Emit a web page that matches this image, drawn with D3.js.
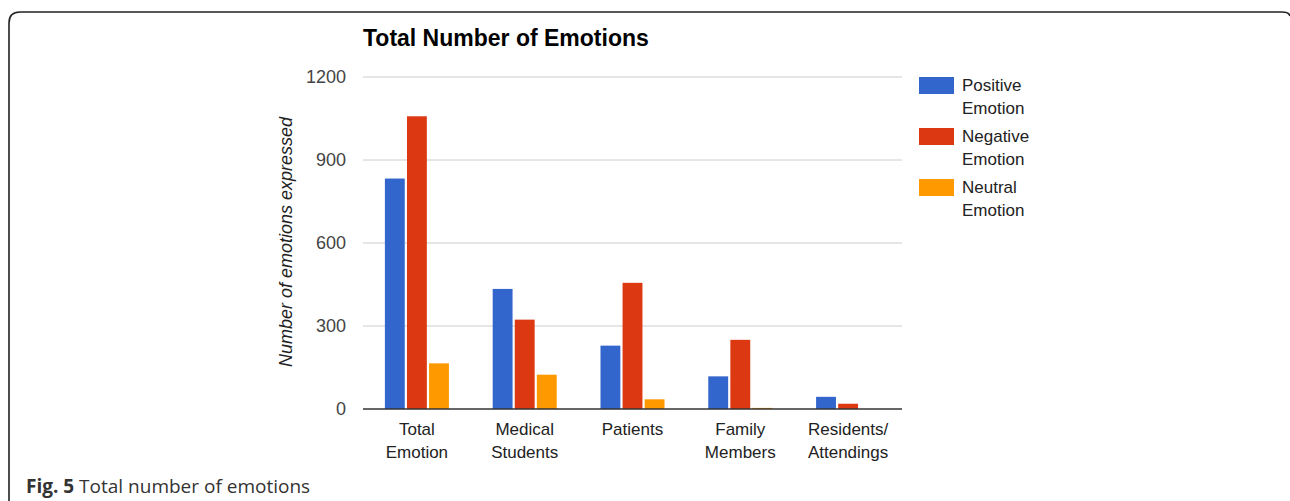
<!DOCTYPE html>
<html>
<head>
<meta charset="utf-8">
<script src="https://cdn.jsdelivr.net/npm/d3@7"></script>
<style>
  body { margin: 0; background: #fff; }
  svg { display: block; }
</style>
</head>
<body>
<div id="plot-container"></div>
<script>
// chart data
const categories = [["Total", "Emotion"], ["Medical", "Students"], ["Patients"], ["Family", "Members"], ["Residents/", "Attendings"]];
const seriesNames = [["Positive", "Emotion"], ["Negative", "Emotion"], ["Neutral", "Emotion"]];
const positive = [833, 434, 229, 118, 44];
const negative = [1058, 323, 456, 250, 19];
const neutral = [165, 124, 35, 4, 0];
const yTicks = [0, 300, 600, 900, 1200];
const colors = ["#3366cc", "#dc3912", "#ff9900"];

const W = 1290, H = 501;
const plot = {left: 363, right: 902, top: 77, bottom: 409};

const svg = d3.select("#plot-container")
  .append("svg")
    .attr("width", W)
    .attr("height", H)
    .style("font-family", "'Liberation Sans', Arial, sans-serif");

// frame round the figure
svg.append("path")
    .attr("d", "M9,501 L9,23 Q9,12 20,12 L1282,12 Q1289,12 1290,16")
    .attr("fill", "none")
    .attr("stroke", "#222")
    .attr("stroke-width", 1.6);

const catKeys = categories.map(c => c.join(" "));
const series = [positive, negative, neutral];

const x0 = d3.scaleBand()
    .domain(catKeys)
    .range([plot.left, plot.right])
    .paddingInner(0.406)
    .paddingOuter(0.203);

const x1 = d3.scaleBand()
    .domain([0, 1, 2])
    .range([0, x0.bandwidth()])
    .paddingInner(0.1);

const y = d3.scaleLinear()
    .domain([0, 1200])
    .range([plot.bottom, plot.top]);

// grid lines
svg.append("g")
  .selectAll("line")
  .data(yTicks.filter(d => d > 0))
  .enter()
  .append("line")
    .attr("x1", plot.left)
    .attr("x2", plot.right)
    .attr("y1", d => y(d))
    .attr("y2", d => y(d))
    .attr("stroke", "#cccccc")
    .attr("stroke-width", 1);

// y tick labels
const yAxis = svg.append("g")
    .attr("transform", `translate(${plot.left - 17},0)`)
    .call(d3.axisLeft(y).tickValues(yTicks).tickFormat(d3.format("d")).tickSize(0).tickPadding(0));
yAxis.select(".domain").remove();
yAxis.selectAll("text")
    .attr("fill", "#444")
    .style("font-size", "18px")
    .style("font-family", "'Liberation Sans', Arial, sans-serif");

// bars
const groups = svg.append("g")
  .selectAll("g")
  .data(catKeys)
  .enter()
  .append("g")
    .attr("transform", d => `translate(${x0(d)},0)`);

groups.selectAll("rect")
  .data((d, i) => series.map((s, j) => ({j: j, v: s[i]})))
  .enter()
  .append("rect")
    .attr("x", d => x1(d.j))
    .attr("y", d => y(d.v))
    .attr("width", x1.bandwidth())
    .attr("height", d => y(0) - y(d.v))
    .attr("fill", d => colors[d.j]);

// baseline
svg.append("line")
    .attr("x1", plot.left)
    .attr("x2", plot.right)
    .attr("y1", y(0))
    .attr("y2", y(0))
    .attr("stroke", "#333")
    .attr("stroke-width", 1.5);

// x labels
const xl = svg.append("g")
  .selectAll("text")
  .data(categories)
  .enter()
  .append("text")
    .attr("x", (d, i) => x0(catKeys[i]) + x0.bandwidth() / 2)
    .attr("y", 435)
    .attr("text-anchor", "middle")
    .attr("fill", "#222")
    .style("font-size", "17px");
xl.selectAll("tspan")
  .data(d => d)
  .enter()
  .append("tspan")
    .attr("x", function() { return d3.select(this.parentNode).attr("x"); })
    .attr("dy", (d, i) => i === 0 ? 0 : 23)
    .text(d => d);

// title
svg.append("text")
    .attr("x", plot.left)
    .attr("y", 46)
    .attr("font-weight", "bold")
    .attr("fill", "#000")
    .style("font-size", "23px")
    .text("Total Number of Emotions");

// y axis title
svg.append("text")
    .attr("transform", "rotate(-90)")
    .attr("x", -(plot.top + plot.bottom) / 2 + 1)
    .attr("y", 292)
    .attr("text-anchor", "middle")
    .attr("font-style", "italic")
    .attr("fill", "#222")
    .style("font-size", "18px")
    .text("Number of emotions expressed");

// legend
const legend = svg.append("g")
  .selectAll("g")
  .data(seriesNames)
  .enter()
  .append("g")
    .attr("transform", (d, i) => `translate(919,${77 + i * 51})`);

legend.append("rect")
    .attr("width", 35)
    .attr("height", 17)
    .attr("fill", (d, i) => colors[i]);

legend.append("text")
    .attr("x", 43)
    .attr("y", 14)
    .attr("fill", "#222")
    .style("font-size", "17px")
  .selectAll("tspan")
  .data(d => d)
  .enter()
  .append("tspan")
    .attr("x", 43)
    .attr("dy", (d, i) => i === 0 ? 0 : 23)
    .text(d => d);

// caption
const cap = svg.append("text")
    .attr("x", 26)
    .attr("y", 493)
    .attr("fill", "#333")
    .style("font-family", "'Open Sans', 'Noto Sans', sans-serif")
    .style("font-size", "19px");
cap.append("tspan").attr("font-weight", "bold").text("Fig. 5");
cap.append("tspan").text(" Total number of emotions");
</script>
</body>
</html>
